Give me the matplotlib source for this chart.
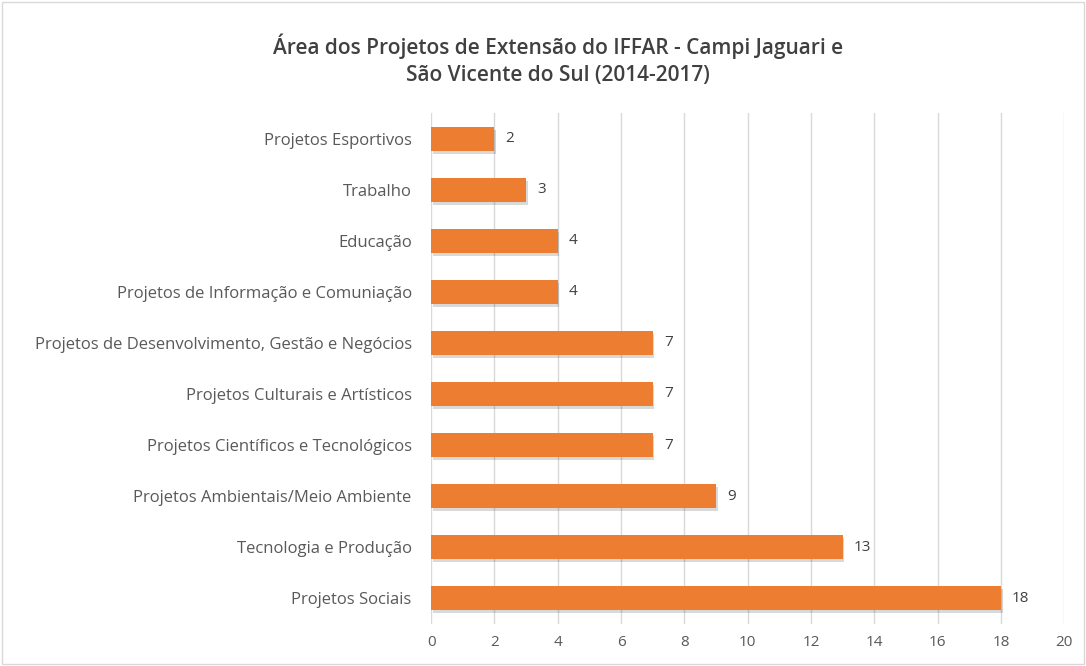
import matplotlib.pyplot as plt
from matplotlib.patches import Rectangle

categories = [
    "Projetos Sociais",
    "Tecnologia e Produção",
    "Projetos Ambientais/Meio Ambiente",
    "Projetos Científicos e Tecnológicos",
    "Projetos Culturais e Artísticos",
    "Projetos de Desenvolvimento, Gestão e Negócios",
    "Projetos de Informação e Comuniação",
    "Educação",
    "Trabalho",
    "Projetos Esportivos",
]
values = [18, 13, 9, 7, 7, 7, 4, 4, 3, 2]

plt.rcParams["font.family"] = ["Open Sans", "DejaVu Sans"]

fig = plt.figure(figsize=(10.86, 6.66), dpi=100)
ax = fig.add_axes([0.397, 0.0638, 0.583, 0.7658])

pos = list(range(len(categories)))

# soft shadow under the bars
ax.barh([p - 0.06 for p in pos], values, height=0.47, left=0.05,
        color="#000000", alpha=0.15, zorder=2)
bars = ax.barh(pos, values, height=0.47, color="#ED7D31", zorder=3)

for p, v in zip(pos, values):
    ax.text(v + 0.35, p, str(v), va="center", ha="left",
            fontsize=11, color="#404040")

ax.set_xlim(0, 20)
ax.set_ylim(-0.5, len(categories) - 0.5)
ax.set_xticks(range(0, 21, 2))
ax.set_yticks(pos)
ax.set_yticklabels(categories)
ax.tick_params(axis="both", length=0, colors="#595959", labelsize=11)
ax.tick_params(axis="y", pad=14, labelsize=12)
ax.tick_params(axis="x", pad=8)
ax.grid(axis="x", color="#D9D9D9", linewidth=1, zorder=0)
for s in ax.spines.values():
    s.set_visible(False)

fig.text(0.514, 0.91, "Área dos Projetos de Extensão do IFFAR - Campi Jaguari e\nSão Vicente do Sul (2014-2017)",
         ha="center", va="center", fontsize=15, fontweight="semibold", color="#404040",
         linespacing=1.4)

fig.patches.append(Rectangle((0.002, 0.003), 0.996, 0.994, transform=fig.transFigure,
                             fill=False, edgecolor="#D9D9D9", linewidth=1))

fig.savefig("out.png", dpi=100, facecolor="white")
